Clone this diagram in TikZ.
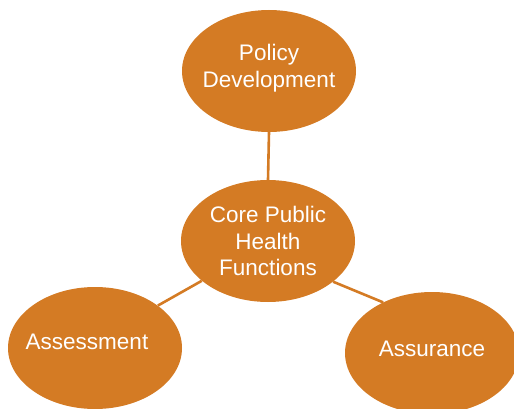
\documentclass[tikz,border=0pt]{standalone}
\usepackage{xcolor}
\usepackage{fontspec}
\setmainfont{Liberation Sans}
\usepackage{tikz}
\usetikzlibrary{positioning}
\usetikzlibrary{shapes}
\usetikzlibrary{calc}

\definecolor{phorange}{HTML}{D47B24}

\begin{document}
\begin{tikzpicture}[x=1pt,y=-1pt,
  func/.style={ellipse, fill=phorange, draw=none, minimum width=174pt, minimum height=122pt,
    inner xsep=-40pt, inner ysep=-30pt, align=center, text=white,
    font=\fontsize{22.5}{26.5}\selectfont},
  link/.style={draw=phorange, line width=2.6pt}]
\useasboundingbox (0,0) rectangle (514,409);

\node[func, text depth=10pt] (policy) at (269,71) {Policy\\Development};
\node[func] (core) at (268,241) {Core Public\\Health\\Functions};
\node[func, text depth=12pt] (assess) at (95,348) {Assessment\hspace{16pt}};
\node[func, text depth=8pt] (assure) at (432,353) {Assurance};

\draw[link] (core.north) -- (policy.south);
\draw[link] (core.-149) -- (assess.34);
\draw[link] (core.-32) -- (assure.134);
\end{tikzpicture}
\end{document}
